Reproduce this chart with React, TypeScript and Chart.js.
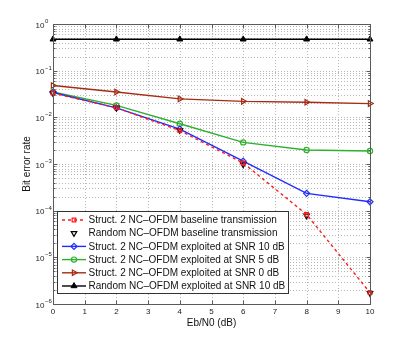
import React, { useEffect, useRef } from 'react';
import { Chart, registerables } from 'chart.js';
import { drawPoint } from 'chart.js/helpers';

Chart.register(...registerables);

const ebn0 = [0, 2, 4, 6, 8, 10];
const struct2Baseline = [0.033, 0.016, 0.0052, 0.00105, 8.3e-5, 1.75e-6];
const randomBaseline = [0.033, 0.016, 0.0053, 0.00098, 7.8e-5, 1.7e-6];
const struct2Snr10 = [0.034, 0.016, 0.0056, 0.00115, 0.000235, 0.000155];
const struct2Snr5 = [0.035, 0.018, 0.0073, 0.0029, 0.002, 0.0019];
const struct2Snr0 = [0.048, 0.035, 0.0248, 0.022, 0.021, 0.0197];
const randomSnr10 = [0.47, 0.47, 0.47, 0.47, 0.47, 0.47];

const xTicks = [0, 1, 2, 3, 4, 5, 6, 7, 8, 9, 10];
const yDecades = [0, -1, -2, -3, -4, -5, -6];

const legendLabels = [
  'Struct. 2 NC\u2013OFDM baseline transmission',
  'Random NC\u2013OFDM baseline transmission',
  'Struct. 2 NC\u2013OFDM exploited at SNR 10 dB',
  'Struct. 2 NC\u2013OFDM exploited at SNR 5 dB',
  'Struct. 2 NC\u2013OFDM exploited at SNR 0 dB',
  'Random NC\u2013OFDM exploited at SNR 10 dB',
];

const FONT = "'Liberation Sans', Arial, Helvetica, sans-serif";

const pts = (ys: number[]) => ebn0.map((x, i) => ({ x, y: ys[i] }));

const decorPlugin = {
  id: 'matlabDecor',
  beforeDatasetsDraw(chart: any) {
    const { ctx, chartArea: a, scales } = chart;
    const xs = scales.x, ys = scales.y;
    ctx.save();
    ctx.strokeStyle = '#b8b8b8';
    ctx.lineWidth = 1;
    ctx.setLineDash([1, 2]);
    xTicks.forEach((t) => {
      if (t === 0 || t === 10) return;
      const px = Math.round(xs.getPixelForValue(t)) + 0.5;
      ctx.beginPath();
      ctx.moveTo(px, a.top);
      ctx.lineTo(px, a.bottom);
      ctx.stroke();
    });
    yDecades.forEach((e) => {
      for (let k = 1; k <= 9; k++) {
        const v = k * Math.pow(10, e);
        if (v >= 1 || v <= 1e-6 * 0.999) continue;
        if (e === 0) continue;
        const py = Math.round(ys.getPixelForValue(v)) + 0.5;
        if (py <= a.top + 1 || py >= a.bottom - 1) continue;
        ctx.beginPath();
        ctx.moveTo(a.left, py);
        ctx.lineTo(a.right, py);
        ctx.stroke();
      }
    });
    ctx.restore();
  },
  afterDatasetsDraw(chart: any) {
    const { ctx, chartArea: a, scales } = chart;
    const xs = scales.x, ys = scales.y;
    ctx.save();
    ctx.setLineDash([]);
    ctx.strokeStyle = '#5a5a5a';
    ctx.lineWidth = 1;
    const L = Math.round(a.left) + 0.5, R = Math.round(a.right) + 0.5;
    const T = Math.round(a.top) + 0.5, B = Math.round(a.bottom) + 0.5;
    ctx.strokeRect(L, T, R - L, B - T);
    ctx.beginPath();
    xTicks.forEach((t) => {
      const px = Math.round(xs.getPixelForValue(t)) + 0.5;
      ctx.moveTo(px, B); ctx.lineTo(px, B - 4);
      ctx.moveTo(px, T); ctx.lineTo(px, T + 4);
    });
    yDecades.forEach((e) => {
      for (let k = 1; k <= 9; k++) {
        const v = k * Math.pow(10, e);
        if (v > 1 || v < 1e-6 * 0.999) continue;
        const py = Math.round(ys.getPixelForValue(v)) + 0.5;
        const len = k === 1 ? 4 : 2;
        ctx.moveTo(L, py); ctx.lineTo(L + len, py);
        ctx.moveTo(R, py); ctx.lineTo(R - len, py);
      }
    });
    ctx.stroke();

    ctx.fillStyle = '#222';
    ctx.font = `8px ${FONT}`;
    ctx.textAlign = 'center';
    ctx.textBaseline = 'middle';
    xTicks.forEach((t) => {
      ctx.fillText(String(t), xs.getPixelForValue(t), a.bottom + 8);
    });
    yDecades.forEach((e) => {
      const py = ys.getPixelForValue(Math.pow(10, e));
      ctx.font = `8px ${FONT}`;
      ctx.textAlign = 'right';
      ctx.textBaseline = 'middle';
      ctx.fillText('10', 44.5, py + 1.5);
      ctx.font = `6px ${FONT}`;
      ctx.textAlign = 'left';
      ctx.fillText(e === 0 ? '0' : '\u2212' + String(-e), 45, py - 2.5);
    });
    ctx.fillStyle = '#111';
    ctx.font = `10px ${FONT}`;
    ctx.textAlign = 'center';
    ctx.textBaseline = 'middle';
    ctx.fillText('Eb/N0 (dB)', (a.left + a.right) / 2, a.bottom + 19);
    ctx.save();
    ctx.translate(27, (a.top + a.bottom) / 2);
    ctx.rotate(-Math.PI / 2);
    ctx.fillText('Bit error rate', 0, 0);
    ctx.restore();

    const lx = 57.5, ly = 211.5, lw = 231, lh = 82;
    ctx.fillStyle = '#ffffff';
    ctx.fillRect(lx, ly, lw, lh);
    ctx.strokeStyle = '#333';
    ctx.lineWidth = 1;
    ctx.strokeRect(lx, ly, lw, lh);
    chart.data.datasets.forEach((ds: any, i: number) => {
      const ry = 220 + i * 13.2;
      ctx.save();
      if (ds.showLine !== false) {
        ctx.strokeStyle = ds.borderColor;
        ctx.lineWidth = ds.borderWidth;
        ctx.setLineDash(ds.borderDash || []);
        ctx.beginPath();
        ctx.moveTo(62, ry);
        ctx.lineTo(86, ry);
        ctx.stroke();
      }
      ctx.setLineDash([]);
      ctx.strokeStyle = ds.pointBorderColor;
      ctx.fillStyle = ds.pointBackgroundColor;
      ctx.lineWidth = ds.pointBorderWidth;
      drawPoint(ctx, {
        pointStyle: ds.pointStyle,
        radius: ds.pointRadius,
        rotation: ds.pointRotation || 0,
        borderWidth: ds.pointBorderWidth,
      }, 74, ry);
      ctx.restore();
      ctx.fillStyle = '#111';
      ctx.font = `10px ${FONT}`;
      ctx.textAlign = 'left';
      ctx.textBaseline = 'middle';
      ctx.fillText(legendLabels[i], 88.5, ry + 0.5);
    });
    ctx.restore();
  },
};

export default function App() {
  const ref = useRef<HTMLCanvasElement | null>(null);
  useEffect(() => {
    document.body.style.margin = '0';
    const red = '#ff1a1a';
    const blue = '#1f2cff';
    const green = '#2eb02e';
    const darkred = '#a82a14';
    const hollow = 'rgba(255,255,255,0)';
    const chart = new Chart(ref.current as HTMLCanvasElement, {
      type: 'line',
      data: {
        datasets: [
          {
            label: legendLabels[0], data: pts(struct2Baseline),
            borderColor: red, borderWidth: 1.4, borderDash: [3, 3],
            pointStyle: 'rect', pointRadius: 2.6, pointBorderColor: red,
            pointBackgroundColor: hollow, pointBorderWidth: 1.2, clip: false,
          },
          {
            label: legendLabels[1], data: pts(randomBaseline), showLine: false,
            borderColor: '#000', borderWidth: 1,
            pointStyle: 'triangle', pointRotation: 180, pointRadius: 3.2,
            pointBorderColor: '#000', pointBackgroundColor: hollow, pointBorderWidth: 1.2, clip: false,
          },
          {
            label: legendLabels[2], data: pts(struct2Snr10),
            borderColor: blue, borderWidth: 1.4,
            pointStyle: 'rectRot', pointRadius: 3, pointBorderColor: blue,
            pointBackgroundColor: hollow, pointBorderWidth: 1.2, clip: false,
          },
          {
            label: legendLabels[3], data: pts(struct2Snr5),
            borderColor: green, borderWidth: 1.4,
            pointStyle: 'circle', pointRadius: 2.6, pointBorderColor: green,
            pointBackgroundColor: hollow, pointBorderWidth: 1.2, clip: false,
          },
          {
            label: legendLabels[4], data: pts(struct2Snr0),
            borderColor: darkred, borderWidth: 1.4,
            pointStyle: 'triangle', pointRotation: 90, pointRadius: 3.2, pointBorderColor: darkred,
            pointBackgroundColor: hollow, pointBorderWidth: 1.2, clip: false,
          },
          {
            label: legendLabels[5], data: pts(randomSnr10),
            borderColor: '#000', borderWidth: 1.4,
            pointStyle: 'triangle', pointRadius: 3.4, pointBorderColor: '#000',
            pointBackgroundColor: '#000', pointBorderWidth: 1, clip: false,
          },
        ],
      },
      options: {
        responsive: false,
        animation: false,
        devicePixelRatio: 1,
        layout: { padding: { left: 53, right: 39, top: 24, bottom: 40 } },
        plugins: { legend: { display: false }, tooltip: { enabled: false } },
        scales: {
          x: { type: 'linear', min: 0, max: 10, display: false },
          y: { type: 'logarithmic', min: 1e-6, max: 1, display: false },
        },
      },
      plugins: [decorPlugin],
    } as any);
    return () => chart.destroy();
  }, []);
  return (
    <div style={{ width: 409, height: 344 }}>
      <canvas ref={ref} width={409} height={344} />
    </div>
  );
}
